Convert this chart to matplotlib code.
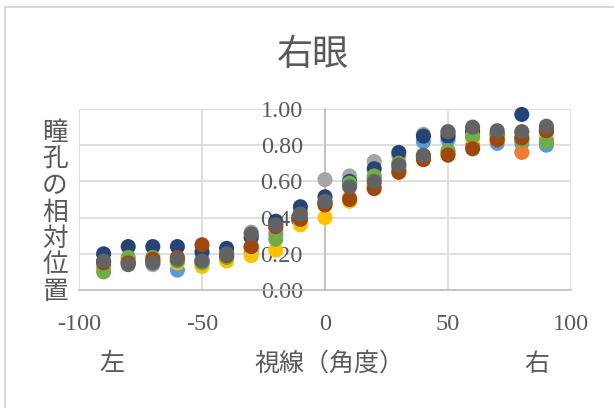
import matplotlib
matplotlib.use('Agg')
import matplotlib.pyplot as plt
import matplotlib as mpl
from matplotlib.lines import Line2D
import numpy as np

# gaze angle (deg) and relative pupil position per subject/series
angles = [-90, -80, -70, -60, -50, -40, -30, -20, -10, 0, 10, 20, 30, 40, 50, 60, 70, 80, 90]

s1 = [0.13, 0.16, 0.15, 0.11, 0.15, 0.18, 0.21, 0.31, 0.40, 0.48, 0.58, 0.62, 0.68, 0.82, 0.83, 0.84, 0.81, 0.81, 0.80]
s2 = [0.15, 0.15, 0.16, 0.17, 0.16, 0.18, 0.23, 0.34, 0.38, 0.47, 0.51, 0.58, 0.66, 0.74, 0.76, 0.80, 0.83, 0.76, 0.83]
s3 = [0.16, 0.15, 0.14, 0.16, 0.17, 0.20, 0.32, 0.37, 0.44, 0.61, 0.63, 0.71, 0.74, 0.86, 0.87, 0.88, 0.86, 0.87, 0.89]
s4 = [0.14, 0.17, 0.16, 0.15, 0.13, 0.16, 0.19, 0.22, 0.36, 0.40, 0.49, 0.57, 0.66, 0.73, 0.86, 0.84, 0.84, 0.84, 0.86]
s5 = [0.20, 0.24, 0.24, 0.24, 0.21, 0.23, 0.29, 0.38, 0.46, 0.515, 0.60, 0.67, 0.76, 0.85, 0.85, 0.875, 0.86, 0.97, 0.88]
s6 = [0.10, 0.18, 0.18, 0.16, 0.15, 0.18, 0.24, 0.28, 0.40, 0.48, 0.59, 0.63, 0.70, 0.74, 0.77, 0.85, 0.85, 0.83, 0.82]
s7 = [0.15, 0.15, 0.17, 0.18, 0.25, 0.19, 0.24, 0.35, 0.39, 0.47, 0.50, 0.56, 0.65, 0.72, 0.745, 0.78, 0.83, 0.84, 0.88]
s8 = [0.16, 0.14, 0.15, 0.17, 0.16, 0.20, 0.31, 0.36, 0.42, 0.49, 0.57, 0.60, 0.69, 0.745, 0.875, 0.90, 0.88, 0.875, 0.905]

series = [s1, s2, s3, s4, s5, s6, s7, s8]
colors = ['#5B9BD5', '#ED7D31', '#A5A5A5', '#FFC000', '#264478', '#70AD47', '#9E480E', '#636363']

xticks = [-100, -50, 0, 50, 100]
yticks = [0.0, 0.2, 0.4, 0.6, 0.8, 1.0]

title = '右眼'
ylabel = '瞳孔の相対位置'
xlabel = '視線（角度）'
left_label = '左'
right_label = '右'

W, H = 614, 408
jp = ['Noto Sans CJK JP', 'DejaVu Sans']
txt_color = '#595959'
grid_color = '#D9D9D9'


def px(x, y):
    # pixel position -> figure fraction
    return x / W, 1 - y / H


def main():
    mpl.rcParams['font.family'] = ['Liberation Serif', 'DejaVu Serif']
    mpl.rcParams['axes.unicode_minus'] = False

    fig = plt.figure(figsize=(W / 100, H / 100), dpi=100)

    # chart area border (left and top edges only are in view)
    fig.add_artist(Line2D([5 / W, 5 / W], [0, 1 - 7 / H], color=grid_color, lw=1.5))
    fig.add_artist(Line2D([5 / W, 1], [1 - 7 / H, 1 - 7 / H], color=grid_color, lw=1.5))

    l, b = px(79, 290)
    r, t = px(571, 109)
    ax = fig.add_axes([l, b, r - l, t - b])

    for vals, c in zip(series, colors):
        ax.scatter(angles, vals, s=118, color=c, edgecolors='none', zorder=3, clip_on=False)

    ax.set_xlim(-100, 100)
    ax.set_ylim(0, 1)
    ax.set_xticks(xticks)
    ax.set_xticklabels([str(v) for v in xticks])
    ax.set_yticks(yticks)
    ax.set_yticklabels(['%.2f' % v for v in yticks])

    ax.grid(True, color=grid_color, lw=1.2, zorder=0)
    ax.set_axisbelow(True)
    for side in ['top', 'right']:
        ax.spines[side].set_visible(False)
    ax.spines['left'].set_position(('data', 0))
    for side in ['left', 'bottom']:
        ax.spines[side].set_color('#BFBFBF')
        ax.spines[side].set_linewidth(1.2)
        ax.spines[side].set_zorder(1)

    ax.tick_params(axis='both', length=0, labelsize=17.5, labelcolor=txt_color)
    ax.tick_params(axis='y', pad=16)
    ax.tick_params(axis='x', pad=17)
    for lab in ax.get_yticklabels():
        lab.set_zorder(2)

    # title
    x, y = px(313, 55)
    fig.text(x, y, title, family=jp, fontsize=26, color=txt_color, ha='center', va='center')

    # vertical y label, one character per line
    for i, ch in enumerate(ylabel):
        x, y = px(55, 133 + i * 26.5)
        fig.text(x, y, ch, family=jp, fontsize=18.5, color=txt_color, ha='center', va='center')

    # x axis title and side markers
    for s, xp in [(left_label, 112), (xlabel, 330), (right_label, 537)]:
        x, y = px(xp, 364)
        fig.text(x, y, s, family=jp, fontsize=18, color=txt_color, ha='center', va='center')

    fig.savefig('out.png', dpi=100)


main()
